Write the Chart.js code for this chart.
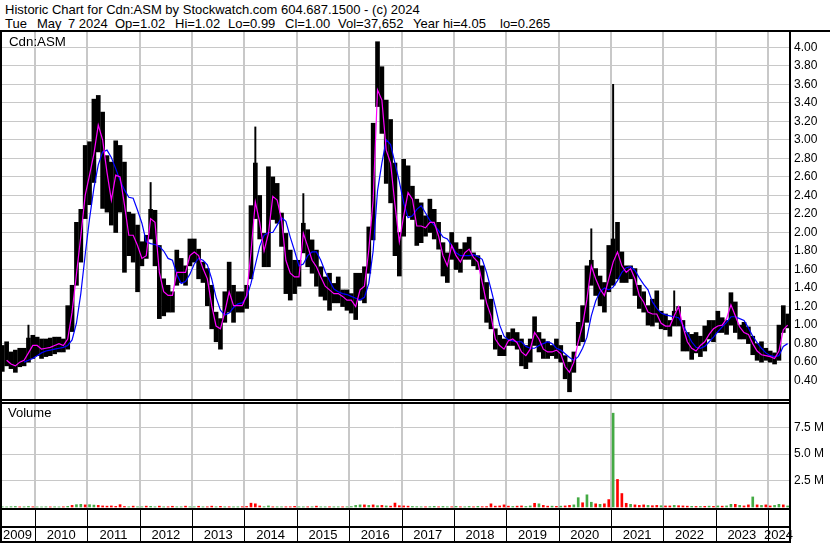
<!DOCTYPE html>
<html lang="en">
<head>
<meta charset="UTF-8">
<title>Historic Chart for Cdn:ASM</title>
<script src="https://cdn.jsdelivr.net/npm/chart.js"></script>
<style>
  body { margin: 0; background: #fff; font-family: Arial, "Liberation Sans", sans-serif; color: #000; }
  #wrap { position: relative; width: 830px; height: 543px; overflow: hidden; }
  .txt { position: absolute; white-space: pre; line-height: 15px; font-size: 13px; }
  .rule { position: absolute; background: #000; }
  canvas { position: absolute; left: 0; }
</style>
</head>
<body>
<div id="wrap">
  <div class="txt" style="left:5px;top:2px">Historic Chart for Cdn:ASM by Stockwatch.com 604.687.1500 - (c) 2024</div>
  <div class="txt" style="left:5px;top:16px">Tue</div>
  <div class="txt" style="left:37px;top:16px">May</div>
  <div class="txt" style="left:68px;top:16px">7 2024</div>
  <div class="txt" style="left:115px;top:16px">Op=1.02</div>
  <div class="txt" style="left:175px;top:16px">Hi=1.02</div>
  <div class="txt" style="left:228px;top:16px">Lo=0.99</div>
  <div class="txt" style="left:285px;top:16px">Cl=1.00</div>
  <div class="txt" style="left:338px;top:16px">Vol=37,652</div>
  <div class="txt" style="left:413px;top:16px">Year hi=4.05</div>
  <div class="txt" style="left:500px;top:16px">lo=0.265</div>
  <div class="rule" style="left:0;top:30px;width:830px;height:2px"></div>

  <canvas id="price" width="830" height="367" style="top:32px"></canvas>
  <canvas id="vol" width="830" height="139" style="top:404px"></canvas>

  <div class="txt" style="left:9px;top:34px;font-size:13.3px">Cdn:ASM</div>
  <div class="txt" style="left:8px;top:405px">Volume</div>

  <div class="rule" style="left:0;top:32px;width:2px;height:511px"></div>
  <div class="rule" style="left:789px;top:32px;width:2px;height:511px"></div>
  <div class="rule" style="left:0;top:399px;width:791px;height:2px"></div>
  <div class="rule" style="left:0;top:402px;width:791px;height:2px"></div>
  <div class="rule" style="left:0;top:508px;width:791px;height:2px"></div>
  <div class="rule" style="left:0;top:526px;width:791px;height:2px"></div>
  <div class="rule" style="left:0;top:541px;width:791px;height:2px"></div>
</div>

<script>
// monthly bars, first one is May 2009
const firstYear = 2009, firstMonth = 5;

const hi = [0.78,0.82,0.71,0.73,0.75,0.75,0.86,0.89,0.87,0.85,
  0.85,0.86,0.87,0.87,0.85,1.21,1.43,2.11,2.25,2.94,
  2.98,3.44,3.48,3.30,2.83,2.76,2.99,2.94,2.76,2.22,
  2.20,2.08,1.90,1.97,2.25,2.24,1.86,1.50,1.43,1.36,
  1.81,1.72,1.64,1.93,1.93,1.82,1.68,1.61,1.43,1.14,
  1.07,1.36,1.68,1.43,1.36,1.36,1.43,2.29,2.75,2.40,
  1.99,2.71,2.60,2.53,2.21,1.99,1.81,1.70,1.70,2.10,
  2.03,1.92,1.81,1.63,1.52,1.56,1.45,1.52,1.38,1.38,
  1.34,1.56,1.56,1.63,2.06,3.18,4.06,3.79,3.43,3.22,
  2.75,2.00,2.79,2.72,2.50,2.36,2.32,2.18,2.36,2.25,
  2.11,1.89,1.78,2.00,1.89,1.82,1.89,1.95,1.78,1.75,
  1.64,1.46,1.28,0.96,0.89,0.85,0.92,0.96,0.92,0.85,
  0.78,0.85,1.09,0.92,0.85,0.82,0.78,0.85,0.78,0.67,
  0.60,0.71,1.03,1.21,1.64,1.70,1.61,1.53,1.46,1.86,
  1.93,2.11,1.79,1.64,1.64,1.61,1.43,1.36,1.21,1.28,
  1.37,1.15,1.12,1.05,1.15,1.20,1.05,0.92,0.90,0.92,
  0.88,0.99,1.05,1.05,1.15,1.08,1.05,1.35,1.25,1.00,
  1.03,0.98,0.88,0.80,0.82,0.75,0.72,0.70,1.00,1.21,
  1.12];

const lo = [0.50,0.56,0.53,0.49,0.55,0.56,0.60,0.64,0.67,0.64,
  0.66,0.67,0.69,0.71,0.71,0.74,0.93,1.43,1.68,2.15,
  2.30,2.54,2.87,2.26,2.22,2.08,2.00,2.22,1.57,1.75,
  1.68,1.36,1.64,1.72,1.93,1.64,1.07,1.10,1.14,1.14,
  1.43,1.46,1.43,1.64,1.68,1.50,1.46,1.21,0.96,0.82,
  0.74,1.03,1.14,1.03,1.14,1.14,1.18,1.50,2.15,1.93,
  1.63,1.63,2.14,2.10,1.85,1.34,1.27,1.34,1.42,1.78,
  1.63,1.56,1.42,1.31,1.27,1.16,1.24,1.24,1.20,1.16,
  1.13,1.06,1.27,1.24,1.56,1.92,3.36,3.07,2.53,2.32,
  1.75,1.53,1.96,2.18,2.14,1.86,1.89,1.96,2.00,1.93,
  1.82,1.53,1.46,1.71,1.60,1.57,1.71,1.71,1.64,1.60,
  1.28,1.03,0.96,0.74,0.67,0.67,0.78,0.78,0.74,0.56,
  0.53,0.60,0.78,0.71,0.64,0.64,0.67,0.64,0.60,0.42,
  0.28,0.49,0.78,0.82,1.03,1.43,1.32,1.21,1.14,1.36,
  1.43,1.50,1.46,1.46,1.50,1.32,1.18,1.14,1.00,0.99,
  1.03,0.96,0.95,0.88,0.99,0.99,0.72,0.72,0.63,0.70,
  0.66,0.72,0.85,0.82,0.92,0.92,0.90,1.00,0.92,0.85,
  0.85,0.80,0.68,0.62,0.60,0.62,0.60,0.58,0.62,0.92,
  0.97];

// single-day highs that stick out above the month's bulk
const spikeMonths = ['2009-11','2012-03','2014-03','2015-02','2020-08','2021-01','2022-03'];
const spikeHigh = [1.00, 2.54, 3.14, 2.42, 2.04, 3.60, 1.37];

// short (magenta) and long (blue) moving averages
const maShort = [null,0.62,0.58,0.56,0.60,0.62,0.70,0.78,0.78,0.74,
  0.75,0.76,0.78,0.80,0.78,0.85,1.14,1.55,1.96,2.40,
  2.62,2.85,3.16,3.00,2.65,2.35,2.62,2.60,2.30,1.97,
  1.97,1.86,1.72,1.75,2.15,2.11,1.57,1.36,1.32,1.32,
  1.57,1.57,1.57,1.75,1.79,1.75,1.61,1.50,1.21,0.99,
  0.96,1.14,1.36,1.21,1.21,1.21,1.32,1.79,2.33,2.11,
  1.80,1.99,2.39,2.35,2.14,1.70,1.56,1.52,1.52,1.99,
  1.85,1.70,1.63,1.52,1.42,1.38,1.34,1.34,1.31,1.27,
  1.27,1.20,1.38,1.42,1.81,2.35,3.54,3.43,2.89,2.75,
  2.30,1.90,2.18,2.43,2.36,2.07,2.07,2.05,2.11,2.11,
  1.96,1.75,1.64,1.86,1.75,1.68,1.78,1.82,1.73,1.68,
  1.46,1.24,1.10,0.85,0.78,0.74,0.83,0.85,0.81,0.71,
  0.67,0.74,0.92,0.85,0.74,0.71,0.71,0.73,0.69,0.55,
  0.49,0.60,0.82,1.00,1.28,1.64,1.50,1.39,1.32,1.50,
  1.68,1.79,1.64,1.57,1.61,1.50,1.32,1.25,1.14,1.12,
  1.12,1.02,0.99,0.99,1.10,1.20,0.98,0.82,0.75,0.72,
  0.78,0.82,0.90,0.96,0.99,1.00,1.07,1.22,1.10,0.98,
  0.92,0.90,0.80,0.72,0.68,0.67,0.66,0.64,0.72,0.95,
  1.00];

const maLong = [null,null,null,null,null,0.60,0.62,0.64,0.67,0.70,
  0.72,0.73,0.74,0.75,0.76,0.78,0.84,1.02,1.34,1.76,
  2.15,2.48,2.73,2.87,2.89,2.81,2.69,2.56,2.46,2.38,
  2.37,2.24,2.10,1.90,1.88,1.87,1.85,1.80,1.72,1.70,
  1.55,1.45,1.47,1.55,1.66,1.72,1.70,1.65,1.50,1.30,
  1.16,1.11,1.13,1.19,1.23,1.24,1.30,1.45,1.65,1.85,
  1.97,2.00,2.00,2.08,2.16,2.12,1.95,1.80,1.64,1.66,
  1.75,1.79,1.79,1.70,1.58,1.48,1.39,1.36,1.34,1.33,
  1.31,1.29,1.27,1.30,1.45,1.80,2.45,2.75,3.00,2.95,
  2.75,2.55,2.32,2.16,2.18,2.25,2.29,2.21,2.13,2.08,
  2.02,1.95,1.93,1.86,1.78,1.75,1.75,1.75,1.76,1.74,
  1.71,1.57,1.39,1.20,1.00,0.88,0.84,0.83,0.82,0.82,
  0.77,0.75,0.75,0.78,0.80,0.82,0.80,0.75,0.73,0.69,
  0.65,0.62,0.66,0.75,0.87,1.10,1.26,1.36,1.40,1.38,
  1.41,1.48,1.57,1.62,1.63,1.59,1.51,1.44,1.38,1.25,
  1.18,1.13,1.11,1.10,1.09,1.08,1.00,0.91,0.82,0.76,
  0.75,0.77,0.82,0.87,0.93,0.98,1.03,1.09,1.09,1.07,
  1.05,0.97,0.88,0.81,0.75,0.70,0.67,0.66,0.67,0.77,
  0.80];

// volume in millions, 1 = up (green), 0 = down (red)
const volume = [0.02,0.01,0.03,0.05,0.01,0.02,0.05,0.02,0.01,0.01,
  0.02,0.01,0.02,0.01,0.02,0.06,0.15,0.22,0.25,0.20,
  0.22,0.18,0.15,0.10,0.08,0.10,0.06,0.22,0.05,0.02,
  0.08,0.02,0.02,0.08,0.06,0.02,0.08,0.02,0.02,0.07,
  0.02,0.02,0.08,0.02,0.02,0.07,0.02,0.02,0.08,0.02,
  0.06,0.02,0.02,0.02,0.02,0.03,0.05,0.36,0.30,0.10,
  0.03,0.10,0.02,0.02,0.02,0.02,0.02,0.06,0.02,0.02,
  0.02,0.02,0.08,0.02,0.02,0.02,0.02,0.02,0.02,0.02,
  0.04,0.15,0.20,0.20,0.15,0.20,0.12,0.15,0.10,0.08,
  0.37,0.12,0.10,0.08,0.05,0.03,0.02,0.02,0.03,0.06,
  0.02,0.05,0.02,0.02,0.06,0.02,0.02,0.05,0.02,0.06,
  0.03,0.04,0.30,0.08,0.10,0.20,0.08,0.05,0.08,0.10,
  0.05,0.10,0.35,0.30,0.15,0.08,0.08,0.06,0.08,0.10,
  0.15,0.20,0.88,0.40,1.15,0.45,0.30,0.25,0.30,0.70,
  8.85,2.60,1.27,0.35,0.25,0.20,0.15,0.20,0.15,0.12,
  0.15,0.12,0.10,0.10,0.15,0.12,0.10,0.08,0.06,0.05,
  0.05,0.06,0.08,0.06,0.10,0.08,0.10,0.25,0.25,0.15,
  0.10,0.20,0.95,0.20,0.15,0.20,0.10,0.15,0.25,0.20,
  0.10];

const volUp = [1,1,1,1,0,1,1,0,1,1,
  1,0,1,1,0,1,0,1,1,0,
  1,1,0,0,0,0,0,0,0,1,
  0,1,1,0,1,1,0,1,0,0,
  1,1,0,1,1,0,1,0,0,1,
  0,1,0,1,1,0,0,0,0,0,
  1,1,0,1,1,0,0,0,1,1,
  0,1,0,1,1,0,1,1,0,1,
  1,1,1,0,1,0,1,0,1,0,
  0,0,0,0,1,1,1,0,1,1,
  0,1,1,0,1,0,1,1,0,1,
  0,0,0,0,0,0,0,1,0,0,
  1,1,0,1,0,0,1,0,1,0,
  0,1,1,0,1,1,0,1,0,0,
  1,0,0,0,1,0,0,0,1,0,
  0,1,0,0,1,0,0,0,1,0,
  1,0,1,0,1,0,1,1,0,1,
  0,0,1,0,1,0,0,1,1,0,
  1];

const priceTicks = ['0.40','0.60','0.80','1.00','1.20','1.40','1.60','1.80','2.00',
  '2.20','2.40','2.60','2.80','3.00','3.20','3.40','3.60','3.80','4.00'];
const volTicks = [2.5, 5.0, 7.5];
const volTickLabels = ['2.5 M', '5.0 M', '7.5 M'];
const yearLabels = ['2009','2010','2011','2012','2013','2014','2015','2016',
  '2017','2018','2019','2020','2021','2022','2023','2024'];

// visible time window (decimal years)
const xMin = 2009.3316, xMax = 2024.4006;

const months = hi.map((_, i) => {
  const m = firstMonth - 1 + i;
  const y = firstYear + Math.floor(m / 12);
  return y + '-' + String(m % 12 + 1).padStart(2, '0');
});
function monthToYear(s) {
  const [y, m] = s.split('-').map(Number);
  return y + (m - 1) / 12 + 1 / 24;
}
const tx = months.map(monthToYear);
const yearLines = yearLabels.slice(1).map(Number);

const font = 'Arial, "Liberation Sans", sans-serif';
const gridGrey = '#c8c8c8';

function xScale() {
  return {
    type: 'linear', min: xMin, max: xMax, offset: false,
    afterBuildTicks: s => { s.ticks = yearLines.map(v => ({ value: v })); },
    ticks: { display: false },
    grid: { color: gridGrey, lineWidth: 2, drawTicks: false, offset: false },
    border: { display: false },
    afterFit: s => { s.height = 0; s.paddingLeft = 0; s.paddingRight = 0; }
  };
}

const common = {
  responsive: false,
  animation: false,
  events: [],
  plugins: { legend: { display: false }, tooltip: { enabled: false } }
};

new Chart(document.getElementById('price'), {
  type: 'bar',
  data: {
    datasets: [
      {
        type: 'line', data: maShort.map((v, i) => ({ x: tx[i], y: v })),
        borderColor: '#ff00ff', borderWidth: 1.2, pointRadius: 0, tension: 0, order: 0
      },
      {
        type: 'line', data: maLong.map((v, i) => ({ x: tx[i], y: v })),
        borderColor: '#0000ff', borderWidth: 1.2, pointRadius: 0, tension: 0, order: 1
      },
      {
        data: spikeMonths.map((m, j) => ({ x: monthToYear(m), y: [hi[months.indexOf(m)], spikeHigh[j]] })),
        backgroundColor: '#000', barThickness: 1.3, grouped: false, order: 2
      },
      {
        data: tx.map((t, i) => ({ x: t, y: [lo[i], hi[i]] })),
        backgroundColor: '#000', barThickness: 4, grouped: false, order: 3
      }
    ]
  },
  options: {
    ...common,
    scales: {
      x: xScale(),
      y: {
        position: 'right', min: 0.202, max: 4.165,
        afterBuildTicks: s => { s.ticks = priceTicks.map(v => ({ value: Number(v) })); },
        ticks: {
          callback: v => priceTicks.find(p => Number(p) === v),
          color: '#000', font: { size: 12, family: font }, padding: 5
        },
        grid: { color: gridGrey, lineWidth: 1, drawTicks: false },
        border: { display: false },
        afterFit: s => { s.width = 41; s.paddingTop = 0; s.paddingBottom = 0; }
      }
    }
  }
});

// year cells under the volume panel
const yearStrip = {
  id: 'yearStrip',
  afterDraw(chart) {
    const { ctx, chartArea, scales: { x } } = chart;
    ctx.save();
    ctx.strokeStyle = '#000';
    ctx.lineWidth = 1;
    yearLines.forEach(v => {
      const px = Math.round(x.getPixelForValue(v)) + 0.5;
      ctx.beginPath();
      ctx.moveTo(px, chartArea.bottom);
      ctx.lineTo(px, chart.height - 1);
      ctx.stroke();
    });
    ctx.fillStyle = '#000';
    ctx.font = '13px ' + font;
    ctx.textAlign = 'center';
    ctx.textBaseline = 'middle';
    yearLabels.forEach(lbl => {
      const y = Number(lbl);
      const a = Math.max(x.getPixelForValue(y), chartArea.left);
      const b = Math.min(x.getPixelForValue(y + 1), chartArea.right);
      ctx.fillText(lbl, (a + b) / 2, 131);
    });
    ctx.restore();
  }
};

new Chart(document.getElementById('vol'), {
  type: 'bar',
  data: {
    datasets: [{
      data: tx.map((t, i) => ({ x: t, y: volume[i] })),
      backgroundColor: volUp.map(u => u ? '#44aa44' : '#ff0000'),
      barThickness: 2, grouped: false
    }]
  },
  options: {
    ...common,
    layout: { padding: { bottom: 35 } },
    scales: {
      x: xScale(),
      y: {
        position: 'right', min: -0.094, max: 9.717,
        afterBuildTicks: s => { s.ticks = volTicks.map(v => ({ value: v })); },
        ticks: {
          callback: v => volTickLabels[volTicks.indexOf(v)],
          color: '#000', font: { size: 12, family: font }, padding: 5
        },
        grid: { color: gridGrey, lineWidth: 1, drawTicks: false },
        border: { display: false },
        afterFit: s => { s.width = 41; s.paddingTop = 0; s.paddingBottom = 0; }
      }
    }
  },
  plugins: [yearStrip]
});
</script>
</body>
</html>
